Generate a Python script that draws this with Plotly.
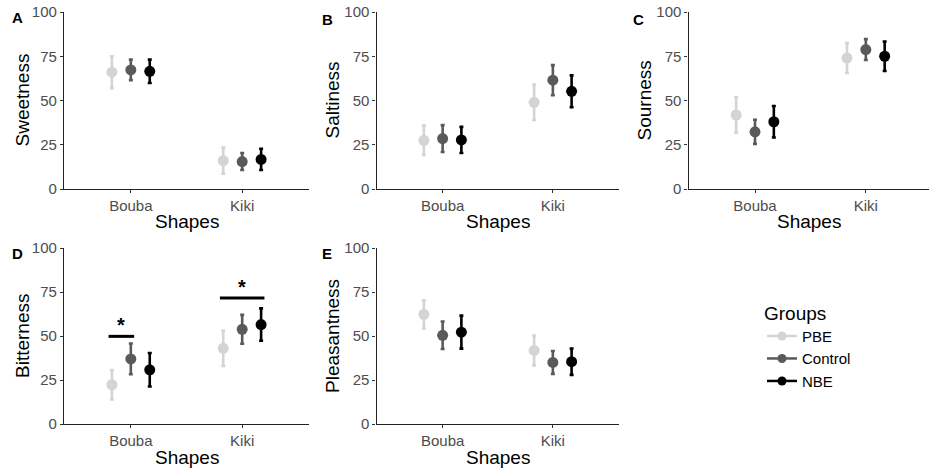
import plotly.graph_objects as go

W, H = 929, 469

shapes_cat = ["Bouba", "Kiki"]
groups = ["PBE", "Control", "NBE"]
group_colors = ["#D4D4D4", "#5A5A5A", "#000000"]

panels = ["A", "B", "C", "D", "E"]
measures = ["Sweetness", "Saltiness", "Sourness", "Bitterness", "Pleasantness"]

# means[panel][group] = [Bouba, Kiki]
sweet_mean = {"PBE": [66, 16], "Control": [67.3, 15.5], "NBE": [66.5, 16.7]}
sweet_err = {"PBE": [9, 7.4], "Control": [5.8, 4.8], "NBE": [6.6, 6.0]}
salt_mean = {"PBE": [27.5, 49], "Control": [28.5, 61.5], "NBE": [27.7, 55.2]}
salt_err = {"PBE": [8.3, 10], "Control": [7.6, 8.5], "NBE": [7.4, 9]}
sour_mean = {"PBE": [41.8, 74], "Control": [32.3, 78.8], "NBE": [38, 75]}
sour_err = {"PBE": [10, 8.4], "Control": [6.8, 5.9], "NBE": [8.9, 8.3]}
bitter_mean = {"PBE": [22.3, 43], "Control": [37, 53.8], "NBE": [30.8, 56.5]}
bitter_err = {"PBE": [8.4, 10], "Control": [8.7, 8.2], "NBE": [9.5, 9.2]}
pleas_mean = {"PBE": [62.3, 41.8], "Control": [50.4, 35], "NBE": [52.2, 35.4]}
pleas_err = {"PBE": [8, 8.5], "Control": [7.8, 6.5], "NBE": [9.4, 7.5]}

means = [sweet_mean, salt_mean, sour_mean, bitter_mean, pleas_mean]
errs = [sweet_err, salt_err, sour_err, bitter_err, pleas_err]

y_ticks = [0, 25, 50, 75, 100]

# significance in Bitterness panel: (category index, first group, last group, bar height)
sig_cat = [0, 1]
sig_from = ["PBE", "PBE"]
sig_to = ["Control", "NBE"]
sig_y = [49.8, 71.6]

# ---- layout geometry (pixels) ----
x_px = [(64, 309), (376.5, 619), (688.5, 929), (64, 309), (376.5, 619)]
y_px = [(12, 189), (12, 189), (12, 189), (248, 424), (248, 424)]
ytitle_x = [22, 332, 644, 22, 332]
xtitle_y = [222, 222, 222, 457, 457]
letter_pos = [(17, 18), (327, 19), (638, 19), (17, 253), (327, 253)]

dodge = 0.17
offsets = {g: (i - 1) * dodge for i, g in enumerate(groups)}

def px2x(p):
    return p / W

def px2y(p):
    return 1 - p / H

fig = go.Figure()
FONT = "Liberation Sans, Arial, sans-serif"

for k in range(5):
    ax = "" if k == 0 else str(k + 1)
    for g, col in zip(groups, group_colors):
        xs = [i + 1 + offsets[g] for i in range(len(shapes_cat))]
        fig.add_trace(go.Scatter(
            x=xs, y=means[k][g], mode="markers",
            marker=dict(color=col, size=11),
            error_y=dict(type="data", array=errs[k][g], color=col, thickness=2.6, width=2),
            xaxis="x" + ax, yaxis="y" + ax, showlegend=False, hoverinfo="skip",
        ))
    xr = (px2x(x_px[k][0]), min(1.0, px2x(x_px[k][1])))
    yr = (px2y(y_px[k][1]), px2y(y_px[k][0]))
    axis_common = dict(showgrid=False, zeroline=False, showline=True, linecolor="#222",
                       linewidth=1.2, ticks="outside", ticklen=3, tickcolor="#333",
                       automargin=False,
                       tickfont=dict(family=FONT, size=15, color="#4D4D4D"))
    fig.update_layout(**{
        "xaxis" + ax: dict(domain=list(xr), range=[0.4, 2.6 if k != 2 else 2.57],
                           tickvals=[1, 2], ticktext=shapes_cat, anchor="y" + ax, **axis_common),
        "yaxis" + ax: dict(domain=list(yr), range=[0, 100], tickvals=y_ticks,
                           anchor="x" + ax, **axis_common),
    })
    fig.add_annotation(x=px2x(ytitle_x[k]), y=(yr[0] + yr[1]) / 2, xref="paper", yref="paper",
                       xanchor="center", yanchor="middle",
                       text=measures[k], textangle=-90, showarrow=False,
                       font=dict(family=FONT, size=19, color="#000"))
    fig.add_annotation(x=(px2x(x_px[k][0]) + px2x(min(W, x_px[k][1]))) / 2, y=px2y(xtitle_y[k]),
                       xref="paper", yref="paper", xanchor="center", yanchor="middle",
                       text="Shapes", showarrow=False,
                       font=dict(family=FONT, size=19, color="#000"))
    fig.add_annotation(x=px2x(letter_pos[k][0]), y=px2y(letter_pos[k][1]), xref="paper", yref="paper",
                       xanchor="center", yanchor="middle",
                       text="<b>" + panels[k] + "</b>", showarrow=False,
                       font=dict(family=FONT, size=15, color="#000"))

# significance bars on Bitterness (panel D -> axis 4)
for c, g0, g1, yv in zip(sig_cat, sig_from, sig_to, sig_y):
    x0 = c + 1 + offsets[g0] - 0.03
    x1 = c + 1 + offsets[g1] + 0.03
    fig.add_shape(type="line", x0=x0, x1=x1, y0=yv, y1=yv, xref="x4", yref="y4",
                  line=dict(color="#000", width=3))
    fig.add_annotation(x=(x0 + x1) / 2, y=yv, xref="x4", yref="y4", text="<b>*</b>",
                       showarrow=False, xanchor="center", yanchor="bottom", yshift=-2,
                       font=dict(family=FONT, size=20, color="#000"))

# legend entries
for g, col in zip(groups, group_colors):
    fig.add_trace(go.Scatter(x=[None], y=[None], mode="lines+markers", name=g,
                             marker=dict(color=col, size=9), line=dict(color=col, width=2.5),
                             xaxis="x5", yaxis="y5", showlegend=True))

fig.update_layout(
    template="none",
    width=W, height=H, margin=dict(l=0, r=0, t=0, b=0, pad=0, autoexpand=False),
    paper_bgcolor="white", plot_bgcolor="white",
    font=dict(family=FONT),
    legend=dict(x=px2x(762), y=px2y(295), xanchor="left", yanchor="top",
                title=dict(text="Groups", font=dict(family=FONT, size=19, color="#000")),
                font=dict(family=FONT, size=15, color="#000"),
                itemwidth=30, tracegroupgap=0, bgcolor="rgba(0,0,0,0)"),
)

fig.write_html("out.html", config={"displayModeBar": False},
               post_script="document.body.style.margin='0';document.body.style.padding='0';")
